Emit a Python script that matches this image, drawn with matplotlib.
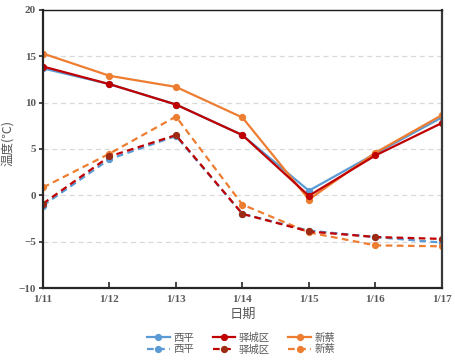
import numpy as np
import matplotlib
matplotlib.use('Agg')
import matplotlib.pyplot as plt

plt.rcParams['font.family'] = ['Noto Sans CJK SC', 'DejaVu Sans']

# data
dates = ['1/11', '1/12', '1/13', '1/14', '1/15', '1/16', '1/17']
xiping_max = [13.7, 12.0, 9.8, 6.5, 0.5, 4.5, 8.4]
yicheng_max = [13.9, 12.0, 9.8, 6.5, -0.05, 4.3, 7.8]
xincai_max = [15.3, 12.9, 11.7, 8.4, -0.45, 4.6, 8.65]
xiping_min = [-1.1, 3.9, 6.4, -2.0, -3.8, -4.5, -5.1]
yicheng_min = [-0.9, 4.2, 6.5, -2.0, -3.9, -4.5, -4.7]
xincai_min = [0.85, 4.5, 8.5, -1.0, -4.0, -5.4, -5.5]

blue = '#5B9BD5'
red = '#C00000'
red_dark = '#9E2A14'
orange = '#ED7D31'
gray = '#595959'

fig = plt.figure(figsize=(4.55, 3.62), dpi=100)
ax = fig.add_axes([0.0945, 0.2044, 0.8765, 0.768])

x = np.arange(len(dates))
lw = 1.6
ms = 4.2
h1, = ax.plot(x, xiping_max, color=blue, lw=lw, marker='o', ms=ms, label='西平')
h2, = ax.plot(x, xiping_min, color=blue, lw=lw, ls=(0, (3, 2)), marker='o', ms=ms, label='西平')
h5, = ax.plot(x, xincai_max, color=orange, lw=lw, marker='o', ms=ms, label='新蔡')
h6, = ax.plot(x, xincai_min, color=orange, lw=lw, ls=(0, (3, 2)), marker='o', ms=ms, label='新蔡')
h3, = ax.plot(x, yicheng_max, color=red, lw=lw, marker='o', ms=ms, label='驿城区')
h4, = ax.plot(x, yicheng_min, color=red, lw=lw, ls=(0, (3, 2)), marker='o', ms=ms,
              mfc=red_dark, mec=red_dark, label='驿城区')

ax.set_xlim(0, 6)
ax.set_ylim(-10, 20)
ax.set_xticks(x)
ax.set_xticklabels(dates)
ax.set_yticks(np.arange(-10, 21, 5))
ax.yaxis.grid(True, color='#d9d9d9', ls=(0, (4, 3)), lw=0.9)
ax.set_axisbelow(True)

for lab in ax.get_xticklabels() + ax.get_yticklabels():
    lab.set_family('Liberation Serif')
    lab.set_fontweight('bold')
    lab.set_fontsize(8)
    lab.set_color(gray)
ax.tick_params(axis='x', direction='in', length=4, width=1.2, color='#262626', pad=5)
ax.tick_params(axis='y', direction='out', length=3, width=1.2, color='#262626', pad=2)

for s in ['left', 'bottom']:
    ax.spines[s].set_linewidth(1.6)
    ax.spines[s].set_color('#262626')
ax.spines['top'].set_linewidth(1.0)
ax.spines['top'].set_color('#1a1a1a')
ax.spines['right'].set_linewidth(1.6)
ax.spines['right'].set_color('#3a3a3a')

ax.set_ylabel('温度(℃)', fontsize=9, color=gray)
ax.yaxis.set_label_coords(-0.073, 0.52)
ax.set_xlabel('日期', fontsize=9.5, color=gray, labelpad=3)

fig.legend([h1, h2, h3, h4, h5, h6], ['西平', '西平', '驿城区', '驿城区', '新蔡', '新蔡'],
           ncol=3, loc='lower center', bbox_to_anchor=(0.53, -0.005), frameon=False,
           fontsize=7.5, handlelength=2.2, columnspacing=1.8, labelspacing=0.15,
           handletextpad=0.3, labelcolor=gray)

fig.savefig('out.png', dpi=100)
